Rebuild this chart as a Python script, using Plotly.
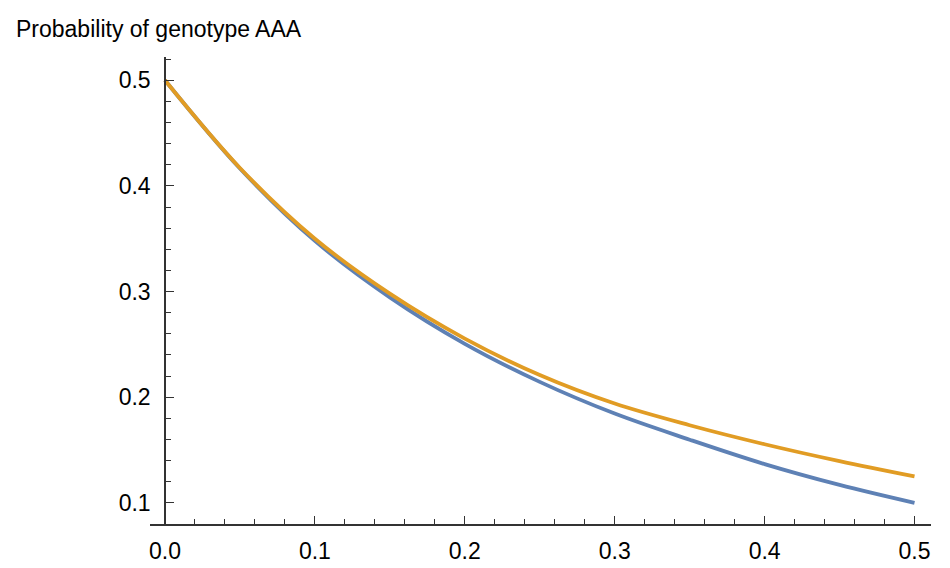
import plotly.graph_objects as go

# Data
r_vals = [0, 0.05, 0.1, 0.15, 0.2, 0.25, 0.3, 0.35, 0.4, 0.45, 0.5]
blue_vals = [0.500, 0.4165, 0.348, 0.2945, 0.2505, 0.2145, 0.1845, 0.1598, 0.1367, 0.117, 0.100]
orange_vals = [0.500, 0.417, 0.350, 0.298, 0.2555, 0.221, 0.194, 0.1735, 0.1555, 0.1395, 0.125]

x_ticks = [0.0, 0.1, 0.2, 0.3, 0.4, 0.5]
y_ticks = [0.1, 0.2, 0.3, 0.4, 0.5]

BLUE = "#5E81B5"
ORANGE = "#E19C24"
AXIS = "#333333"
FONT = "Liberation Sans, Arial, sans-serif"
FS = 23

fig = go.Figure()
fig.add_trace(go.Scatter(x=r_vals, y=blue_vals, mode="lines",
                         line=dict(color=BLUE, width=3.8, shape="spline", smoothing=1.0),
                         showlegend=False, hoverinfo="skip"))
fig.add_trace(go.Scatter(x=r_vals, y=orange_vals, mode="lines",
                         line=dict(color=ORANGE, width=3.8, shape="spline", smoothing=1.0),
                         showlegend=False, hoverinfo="skip"))

ml, mr, mt, mb = 142, 27, 49, 38
W, H = 950, 568
plot_w = W - ml - mr
plot_h = H - mt - mb

fig.update_layout(
    width=W, height=H,
    margin=dict(l=ml, r=mr, t=mt, b=mb, pad=0),
    paper_bgcolor="white", plot_bgcolor="white",
    font=dict(family=FONT, size=FS, color="black"),
    xaxis=dict(
        range=[-0.01, 0.511], anchor="y",
        showgrid=False, zeroline=False,
        showline=True, linecolor=AXIS, linewidth=1.5,
        tickvals=x_ticks, ticktext=[f"{v:.1f}" for v in x_ticks],
        ticks="inside", ticklen=8, tickwidth=1.2, tickcolor=AXIS,
        minor=dict(dtick=0.02, tick0=0, ticks="inside", ticklen=5,
                   tickwidth=1.2, tickcolor=AXIS, showgrid=False),
        tickfont=dict(family=FONT, size=FS, color="black"),
        ticklabelstandoff=6,
    ),
    yaxis=dict(
        range=[0.08, 0.522], anchor="free", position=15 / plot_w,
        showgrid=False, zeroline=False,
        showline=True, linecolor=AXIS, linewidth=1.5,
        tickvals=y_ticks, ticktext=[f"{v:.1f}" for v in y_ticks],
        ticks="inside", ticklen=8, tickwidth=1.2, tickcolor=AXIS,
        minor=dict(dtick=0.02, tick0=0, ticks="inside", ticklen=5,
                   tickwidth=1.2, tickcolor=AXIS, showgrid=False),
        tickfont=dict(family=FONT, size=FS, color="black"),
        ticklabelstandoff=9,
    ),
    annotations=[
        dict(text="Probability of genotype AAA", xref="paper", yref="paper",
             x=(6 - ml) / plot_w, y=1 + (mt - 20) / plot_h,
             xanchor="left", yanchor="middle", showarrow=False,
             font=dict(family=FONT, size=FS, color="black")),
        dict(text="<i>r</i>", xref="paper", yref="paper",
             x=(942 - ml) / plot_w, y=-2 / plot_h,
             xanchor="left", yanchor="middle", showarrow=False,
             font=dict(family=FONT, size=FS, color="black")),
    ],
)

fig.write_html("out.html")
